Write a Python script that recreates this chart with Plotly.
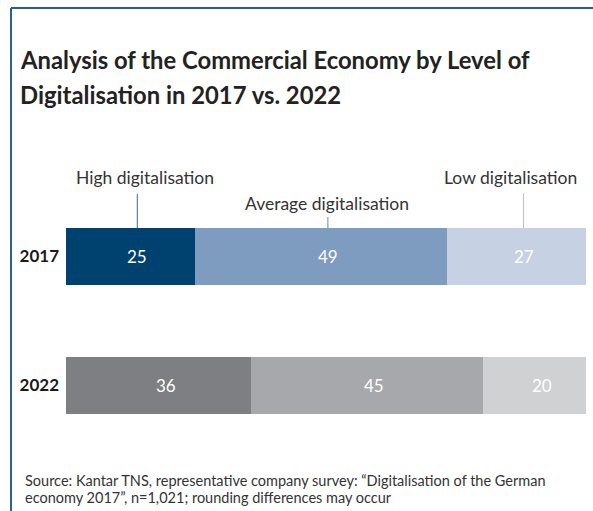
import plotly.graph_objects as go

# ---- data ----
years = ["2017", "2022"]
levels = ["High digitalisation", "Average digitalisation", "Low digitalisation"]
high = [25, 36]
average = [49, 45]
low = [27, 20]
title_lines = ["Analysis of the Commercial Economy by Level of",
               "Digitalisation in 2017 vs. 2022"]
source_lines = ["Source: Kantar TNS, representative company survey: \u201cDigitalisation of the German",
                "economy 2017\u201d, n=1,021; rounding differences may occur"]

# ---- styling ----
W, H = 593, 511
ML, MR, MT, MB = 66, 7, 192, 61
PW, PH = W - ML - MR, H - MT - MB
FONT = "Lato"
colors = {
    "High digitalisation": ["#00426f", "#7e7f83"],
    "Average digitalisation": ["#7e9cbf", "#a7a8ab"],
    "Low digitalisation": ["#c7d1e4", "#d0d1d3"],
}
line_colors = ["#5a82aa", "#7e9cbf", "#bcc7dc"]
frame_color = "#2b6093"

def px_x(p):
    return (p - ML) / PW

def px_y(p):
    return 1 - (p - MT) / PH

series = {"High digitalisation": high, "Average digitalisation": average,
          "Low digitalisation": low}
total = max(h + a + l for h, a, l in zip(high, average, low))
unit_px = PW / total

fig = go.Figure()
for name in levels:
    fig.add_trace(go.Bar(
        y=years, x=series[name], orientation="h", name=name,
        marker=dict(color=colors[name], line=dict(width=0)),
        hoverinfo="skip", showlegend=False,
    ))

annotations = []
shapes = []

# value labels inside each segment (y given as category index)
shift_px = 7
for yi, yr in enumerate(years):
    start = 0
    for name in levels:
        v = series[name][yi]
        annotations.append(dict(
            x=start + v / 2, y=yi, xref="x", yref="y", text=str(v),
            showarrow=False, xshift=shift_px,
            font=dict(family=FONT, size=17, color="white")))
        start += v

# leader lines and level labels above the 2017 bar
bar_top = 228
line_tops = [194, 217, 193]
label_centres = [178, 203, 178]
label_shifts = [8, -1, -13]
start = 0
for i, name in enumerate(levels):
    v = series[name][0]
    xm = start + v / 2 + shift_px / unit_px
    start += v
    shapes.append(dict(type="line", xref="x", yref="paper",
                       x0=xm, x1=xm, y0=px_y(line_tops[i]), y1=px_y(bar_top),
                       line=dict(color=line_colors[i], width=1.2)))
    annotations.append(dict(
        x=xm, y=px_y(label_centres[i]), xref="x", yref="paper",
        text=name, showarrow=False, xshift=label_shifts[i],
        xanchor="center", yanchor="middle",
        font=dict(family=FONT, size=17.5, color="#333333")))

# title
for i, (t, yc) in enumerate(zip(title_lines, [60, 95])):
    annotations.append(dict(
        x=px_x(18), y=px_y(yc), xref="paper", yref="paper", text=f"<b>{t}</b>",
        showarrow=False, xanchor="left", yanchor="middle",
        font=dict(family=FONT, size=23.8, color="#222222")))

# source note
for t, yc in zip(source_lines, [480, 497]):
    annotations.append(dict(
        x=px_x(23), y=px_y(yc), xref="paper", yref="paper", text=t,
        showarrow=False, xanchor="left", yanchor="middle",
        font=dict(family=FONT, size=14.5, color="#333333")))

# frame: top and left rules
shapes.append(dict(type="line", xref="paper", yref="paper",
                   x0=px_x(11), x1=px_x(W + 5), y0=px_y(8), y1=px_y(8),
                   line=dict(color=frame_color, width=2)))
shapes.append(dict(type="line", xref="paper", yref="paper",
                   x0=px_x(11), x1=px_x(11), y0=px_y(8), y1=px_y(H + 5),
                   line=dict(color=frame_color, width=2)))

fig.update_layout(
    width=W, height=H,
    margin=dict(l=ML, r=MR, t=MT, b=MB, pad=0),
    barmode="stack", bargap=0.558,
    plot_bgcolor="white", paper_bgcolor="white",
    xaxis=dict(range=[0, total], visible=False, fixedrange=True),
    yaxis=dict(type="category", categoryorder="array", categoryarray=years,
               range=[1.5, -0.5], autorange=False,
               showgrid=False, zeroline=False, showline=False, ticks="",
               tickfont=dict(family=FONT, size=17, color="#1a1a1a", weight="bold"),
               ticklabelstandoff=6, fixedrange=True),
    annotations=annotations, shapes=shapes,
    font=dict(family=FONT),
)

fig.write_html("out.html")
